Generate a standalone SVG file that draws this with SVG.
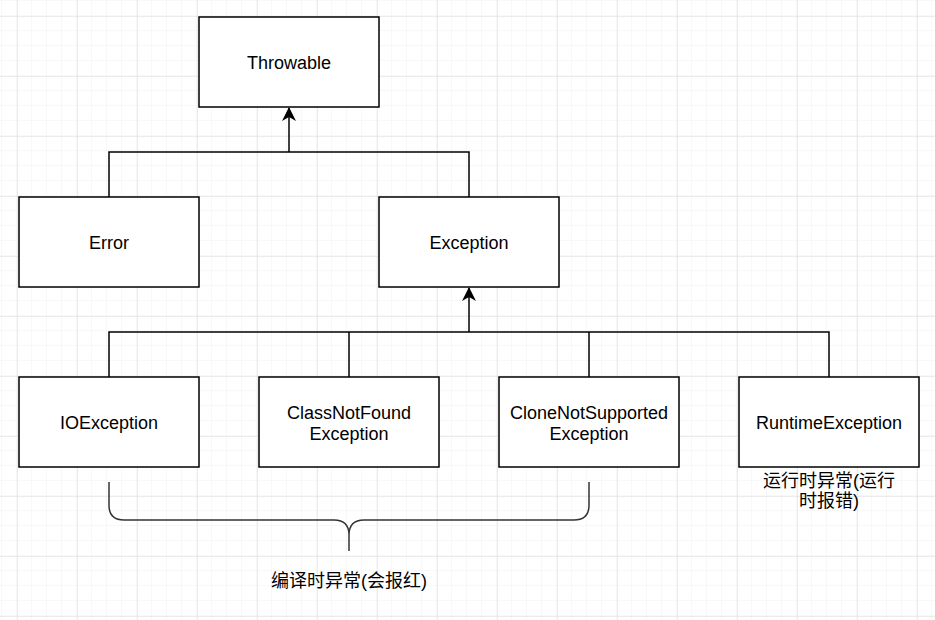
<svg xmlns="http://www.w3.org/2000/svg" width="935" height="620" viewBox="0 0 935 620">
<defs>
<pattern id="minor" x="2" y="1" width="15" height="15" patternUnits="userSpaceOnUse">
<path d="M15 0V15M0 15H15" fill="none" stroke="#f0f0f0" stroke-width="1"/>
</pattern>
<pattern id="major" x="17" y="16" width="60" height="60" patternUnits="userSpaceOnUse">
<path d="M0 0V60M0 0H60" fill="none" stroke="#d9d9d9" stroke-width="1"/>
</pattern>
<marker id="arr" viewBox="0 0 14 14" refX="13" refY="7" markerWidth="14" markerHeight="14" markerUnits="userSpaceOnUse" orient="auto">
<path d="M0 0L14 7L0 14L4 7Z" fill="#000"/>
</marker>
</defs>
<style>
.box{fill:#fff;stroke:#000;stroke-width:1.5}
.t{font-family:"Liberation Sans","Noto Sans CJK SC",sans-serif;font-size:18px;fill:#000;text-anchor:middle}
.c{fill:none;stroke:#000;stroke-width:1.5}
.b{fill:none;stroke:#333;stroke-width:1.5}
</style>
<rect width="935" height="620" fill="#fff"/>
<rect width="935" height="620" fill="url(#minor)"/>
<rect width="935" height="620" fill="url(#major)"/>
<g id="connectors">
<path class="c" d="M109 197V152H469V197"/>
<path class="c" d="M289 152V108" marker-end="url(#arr)"/>
<path class="c" d="M109 377V332H829V377M349 332V377M589 332V377"/>
<path class="c" d="M469 332V288" marker-end="url(#arr)"/>
</g>
<g id="throwable"><rect class="box" x="199" y="17" width="180" height="90"/><text class="t" x="289" y="69">Throwable</text></g>
<g id="error"><rect class="box" x="19" y="197" width="180" height="90"/><text class="t" x="109" y="249">Error</text></g>
<g id="exception"><rect class="box" x="379" y="197" width="180" height="90"/><text class="t" x="469" y="249">Exception</text></g>
<g id="ioexception"><rect class="box" x="19" y="377" width="180" height="90"/><text class="t" x="109" y="429">IOException</text></g>
<g id="classnotfound"><rect class="box" x="259" y="377" width="180" height="90"/><text class="t" x="349" y="419">ClassNotFound</text><text class="t" x="349" y="440">Exception</text></g>
<g id="clonenotsupported"><rect class="box" x="499" y="377" width="180" height="90"/><text class="t" x="589" y="419">CloneNotSupported</text><text class="t" x="589" y="440">Exception</text></g>
<g id="runtime"><rect class="box" x="739" y="377" width="180" height="90"/><text class="t" x="829" y="429">RuntimeException</text></g>
<g id="runtime-label"><text class="t" x="829" y="487">运行时异常(运行</text><text class="t" x="829" y="507">时报错)</text></g>
<g id="brace">
<path class="b" d="M109 482V505Q109 520 124 520H334Q349 520 349 535V551M349 535Q349 520 364 520H574Q589 520 589 505V482"/>
</g>
<g id="compile-label"><text class="t" x="349" y="587">编译时异常(会报红)</text></g>
</svg>
